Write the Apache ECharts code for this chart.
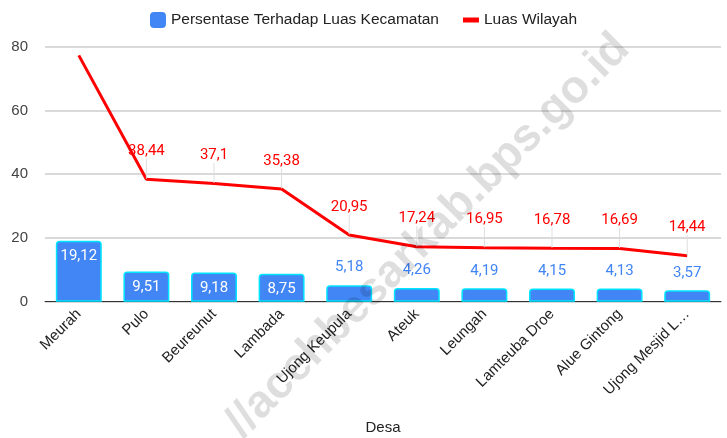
<!DOCTYPE html>
<html>
<head>
<meta charset="utf-8">
<script src="https://cdn.jsdelivr.net/npm/echarts@6/dist/echarts.min.js"></script>
<style>
  html, body { margin: 0; padding: 0; background: #fff; }
  #chart { width: 727px; height: 438px; }
</style>
</head>
<body>
<div id="chart"></div>
<script>
var desa = ['Meurah', 'Pulo', 'Beureunut', 'Lambada', 'Ujong Keupula', 'Ateuk', 'Leungah', 'Lamteuba Droe', 'Alue Gintong', 'Ujong Mesjid L…'];
var persentase = [19.12, 9.51, 9.18, 8.75, 5.18, 4.26, 4.19, 4.15, 4.13, 3.57];
var luasWilayah = [77.28, 38.44, 37.1, 35.38, 20.95, 17.24, 16.95, 16.78, 16.69, 14.44];
var yTicks = [0, 20, 40, 60, 80];

function koma(v) { return String(v).replace('.', ','); }

var chart = echarts.init(document.getElementById('chart'));

var barData = persentase.map(function (v) {
    var inside = v > 8;
    return {
        value: v,
        label: inside
            ? { position: 'insideTop', color: '#fff', distance: 8 }
            : { position: 'top', color: '#4285f4', distance: 10 }
    };
});

var lineData = luasWilayah.map(function (v, i) {
    return i === 0 ? { value: v, label: { show: false }, labelLine: { show: false } } : v;
});

var arial = '"Liberation Sans", Arial, sans-serif';

chart.setOption({
    textStyle: { fontFamily: 'Roboto, Arial, sans-serif' },
    animation: false,
    legend: {
        top: 7,
        left: 'center',
        itemWidth: 16,
        itemHeight: 16,
        itemGap: 24,
        itemStyle: { borderWidth: 0 },
        textStyle: { fontSize: 15.5, color: '#222', fontFamily: arial },
        data: [
            { name: 'Persentase Terhadap Luas Kecamatan', icon: 'roundRect' },
            { name: 'Luas Wilayah', icon: 'path://M0,0M16,16M0,5.5h16v5h-16z', itemStyle: { color: '#ff0000', opacity: 1 } }
        ]
    },
    grid: { left: 45, right: 6, top: 46.7, bottom: 136.3, outerBoundsMode: 'none' },
    xAxis: {
        type: 'category',
        data: desa,
        name: 'Desa',
        nameLocation: 'middle',
        nameGap: 119,
        nameTextStyle: { fontSize: 15, color: '#222', fontFamily: arial },
        axisTick: { show: false },
        axisLine: { lineStyle: { color: '#333', width: 1 } },
        axisLabel: { interval: 0, rotate: 45, fontSize: 15, color: '#222', margin: 10, fontFamily: arial }
    },
    yAxis: {
        type: 'value',
        min: yTicks[0],
        max: yTicks[yTicks.length - 1],
        interval: 20,
        axisLabel: { fontSize: 15, color: '#444', margin: 17, fontFamily: arial },
        splitLine: { lineStyle: { color: '#ccc', width: 1.5 } }
    },
    series: [
        {
            name: 'Persentase Terhadap Luas Kecamatan',
            type: 'bar',
            data: barData,
            barWidth: '68%',
            itemStyle: {
                color: '#4285f4',
                borderColor: '#00e5ff',
                borderWidth: 1.5,
                borderRadius: [3, 3, 0, 0]
            },
            label: {
                show: true,
                fontSize: 15,
                formatter: function (p) { return koma(p.value); }
            }
        },
        {
            name: 'Luas Wilayah',
            type: 'line',
            data: lineData,
            symbol: 'circle',
            symbolSize: 1,
            showSymbol: true,
            lineStyle: { color: '#ff0000', width: 3 },
            itemStyle: { color: 'rgba(255,0,0,0)' },
            z: 3,
            label: {
                show: true,
                position: 'top',
                distance: 5,
                fontSize: 15,
                color: '#ff0000',
                formatter: function (p) { return koma(p.value); }
            },
            labelLayout: { dy: -15 },
            labelLine: { show: true, lineStyle: { color: '#ddd', width: 1 } }
        }
    ],
    graphic: [{
        type: 'text',
        x: 428,
        y: 236,
        rotation: Math.PI / 4,
        z: 100,
        silent: true,
        style: {
            text: '//acehbesarkab.bps.go.id',
            font: 'bold 46px "Liberation Sans", Arial, sans-serif',
            fill: 'rgba(0,0,0,0.13)',
            align: 'center',
            verticalAlign: 'middle'
        }
    }]
});
</script>
</body>
</html>
